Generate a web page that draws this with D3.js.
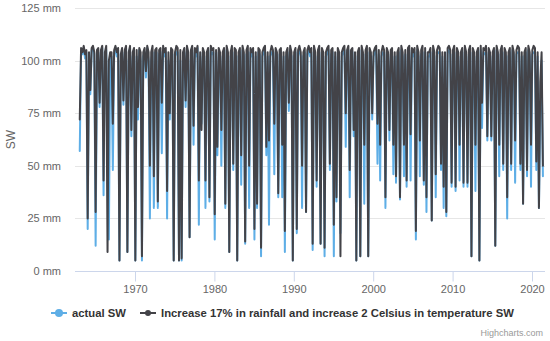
<!DOCTYPE html>
<html>
<head>
<meta charset="utf-8">
<script src="https://cdn.jsdelivr.net/npm/d3@7"></script>
<style>
  html, body { margin: 0; padding: 0; background: #fff; }
  svg { display: block; font-family: "Liberation Sans", Arial, Helvetica, sans-serif; }
</style>
</head>
<body>
<svg id="chart" width="550" height="341"></svg>
<script>
// ---- data (one value every 2 months, starting Jan 1963) ----
const startYear = 1963;
const monthsPerPoint = 2;
const seriesNames = ["actual SW", "Increase 17% in rainfall and increase 2 Celsius in temperature SW"];
const yTicks = [0, 25, 50, 75, 100, 125];
const xTicks = [1970, 1980, 1990, 2000, 2010, 2020];

const actualSW = [
  57,104,103,106,101,104, // 1963
  20,100,84,105,106,103,  // 1964
  12,100,104,78,104,106,  // 1965
  36,102,105,70,15,100,   // 1966
  102,48,103,106,102,105, // 1967
  5,100,104,79,104,106,   // 1968
  9,100,106,64,102,105,   // 1969
  5,102,72,105,100,5,     // 1970
  102,104,92,106,100,25,  // 1971
  100,104,30,104,104,30,  // 1972
  103,104,56,105,102,104, // 1973
  25,100,72,104,103,5,    // 1974
  102,104,104,5,100,5,    // 1975
  102,104,78,106,100,16,  // 1976
  103,105,60,104,102,106, // 1977
  22,102,70,104,102,30,   // 1978
  102,104,33,105,103,104, // 1979
  15,102,55,104,102,50,   // 1980
  102,104,30,105,100,9,   // 1981
  102,104,48,104,102,5,   // 1982
  102,104,41,105,102,13,  // 1983
  103,104,30,104,102,104, // 1984
  15,102,30,104,103,7,    // 1985
  102,104,105,55,102,22,  // 1986
  102,104,103,46,104,102, // 1987
  35,103,104,35,102,9,    // 1988
  102,104,76,105,102,5,   // 1989
  102,104,18,103,105,102, // 1990
  30,102,104,28,103,105,  // 1991
  102,104,10,105,102,40,  // 1992
  103,104,13,104,102,7,   // 1993
  102,104,105,48,103,104, // 1994
  7,102,33,104,100,18,    // 1995
  102,104,105,59,103,105, // 1996
  35,103,104,64,102,5,    // 1997
  102,104,7,105,102,32,   // 1998
  103,104,7,104,102,72,   // 1999
  102,104,105,51,103,43,  // 2000
  102,104,103,30,104,102, // 2001
  62,103,104,46,102,42,   // 2002
  102,104,34,105,102,45,  // 2003
  103,40,104,105,43,104,  // 2004
  102,104,15,105,102,45,  // 2005
  103,104,41,104,28,102,  // 2006
  102,104,24,105,102,35,  // 2007
  103,104,104,48,102,30,  // 2008
  102,26,104,105,103,40,  // 2009
  103,104,38,104,102,43,  // 2010
  102,104,40,105,102,40,  // 2011
  103,104,7,104,102,38,   // 2012
  102,104,5,105,68,104,   // 2013
  103,104,62,104,102,62,  // 2014
  102,104,12,105,102,45,  // 2015
  103,104,48,104,102,25,  // 2016
  102,104,48,105,102,42,  // 2017
  103,104,104,48,102,32,  // 2018
  102,104,45,105,102,40,  // 2019
  103,104,104,48,102,30,  // 2020
  80,100,45               // 2021
];

const scenarioSW = [
  72,106,104,107,103,105, // 1963
  25,104,86,106,107,104,  // 1964
  28,105,106,80,105,107,  // 1965
  43,104,107,9,100,104,   // 1966
  104,70,105,107,104,106, // 1967
  5,103,106,81,105,107,   // 1968
  9,104,107,67,104,106,   // 1969
  5,105,78,106,104,7,     // 1970
  104,106,95,107,104,50,  // 1971
  104,107,45,105,106,33,  // 1972
  105,106,80,107,104,106, // 1973
  38,104,75,106,105,5,    // 1974
  104,107,106,5,105,6,    // 1975
  104,106,81,107,104,16,  // 1976
  105,107,69,106,104,107, // 1977
  43,104,67,106,104,43,   // 1978
  104,106,35,107,105,106, // 1979
  27,105,59,106,104,67,   // 1980
  104,106,32,107,104,9,   // 1981
  104,107,51,106,105,5,   // 1982
  104,106,55,107,104,14,  // 1983
  105,107,50,106,104,106, // 1984
  20,104,32,106,105,11,   // 1985
  104,106,107,59,104,62,  // 1986
  104,107,105,70,106,104, // 1987
  37,105,106,60,104,19,   // 1988
  104,106,80,107,104,5,   // 1989
  104,106,20,105,107,104, // 1990
  50,104,106,28,105,107,  // 1991
  104,106,13,107,104,43,  // 1992
  105,107,13,106,104,11,  // 1993
  104,106,107,51,105,106, // 1994
  22,104,35,106,104,7,    // 1995
  104,106,107,75,105,107, // 1996
  48,105,106,67,104,5,    // 1997
  104,106,7,107,104,60,   // 1998
  105,107,7,106,104,75,   // 1999
  104,106,107,70,105,60,  // 2000
  104,107,105,35,106,104, // 2001
  67,105,106,60,104,45,   // 2002
  104,106,35,107,104,60,  // 2003
  105,43,106,107,65,106,  // 2004
  104,106,19,107,104,62,  // 2005
  105,107,43,106,35,104,  // 2006
  104,106,24,107,104,46,  // 2007
  105,107,106,51,104,40,  // 2008
  104,28,106,107,105,42,  // 2009
  105,107,40,106,104,60,  // 2010
  104,106,42,107,104,42,  // 2011
  105,107,7,106,104,60,   // 2012
  104,106,5,107,80,106,   // 2013
  105,107,64,106,104,64,  // 2014
  104,106,12,107,104,60,  // 2015
  105,107,51,106,104,35,  // 2016
  104,106,51,107,104,62,  // 2017
  105,107,106,51,104,32,  // 2018
  104,106,48,107,104,60,  // 2019
  105,107,106,52,104,30,  // 2020
  90,104,50               // 2021
];

// ---- drawing ----
const colors = ["#5eaee6", "#434348"];
const svg = d3.select("#chart");
const plot = { left: 75, right: 545, top: 8, bottom: 271 };

// time position of each point (fractional year, middle of the 2-month slot)
const t = i => startYear + (i * monthsPerPoint + 0.5) / 12;

const x = d3.scaleLinear()
  .domain([1962.443, 2021.637])
  .range([plot.left, plot.right]);
const y = d3.scaleLinear()
  .domain([0, 125])
  .range([plot.bottom, plot.top]);

// grid lines
svg.append("g")
  .selectAll("line")
  .data(yTicks.filter(v => v > 0))
  .join("line")
  .attr("x1", plot.left).attr("x2", plot.right)
  .attr("y1", d => Math.round(y(d)) + 0.5).attr("y2", d => Math.round(y(d)) + 0.5)
  .attr("stroke", "#e6e6e6").attr("stroke-width", 1);

// y axis labels
const yAxis = d3.axisLeft(y).tickValues(yTicks).tickFormat(d => d + " mm").tickSize(0).tickPadding(0);
const gy = svg.append("g").attr("transform", `translate(61,0)`).call(yAxis);
gy.select(".domain").remove();
gy.selectAll("text").attr("fill", "#666666").style("font-size", "11px")
  .style("font-family", '"Liberation Sans", Arial, sans-serif');

// y title
svg.append("text")
  .attr("transform", `translate(15,${(plot.top + plot.bottom) / 2}) rotate(-90)`)
  .attr("text-anchor", "middle")
  .attr("fill", "#666666")
  .style("font-size", "12px")
  .text("SW");

// x axis
const xAxis = d3.axisBottom(x).tickValues(xTicks).tickFormat(d => String(d)).tickSize(10).tickPadding(4);
const gx = svg.append("g").attr("transform", `translate(0,${plot.bottom + 0.5})`).call(xAxis);
gx.select(".domain").attr("stroke", "#ccd6eb").attr("d", `M${plot.left},0H${plot.right}`);
gx.selectAll(".tick line").attr("stroke", "#ccd6eb");
gx.selectAll("text").attr("fill", "#666666").style("font-size", "11px")
  .style("font-family", '"Liberation Sans", Arial, sans-serif');

// lines
const line = d3.line()
  .x((d, i) => x(t(i)))
  .y(d => y(d));

[actualSW, scenarioSW].forEach((series, k) => {
  svg.append("path")
    .datum(series)
    .attr("d", line)
    .attr("fill", "none")
    .attr("stroke", colors[k])
    .attr("stroke-width", 2)
    .attr("stroke-linejoin", "round")
    .attr("stroke-linecap", "round");
});

// legend
const legendY = 313;
const legendItems = [
  { name: seriesNames[0], color: colors[0], sx: 51, r: 4 },
  { name: seriesNames[1], color: colors[1], sx: 140, r: 3 }
];
const lg = svg.append("g");
legendItems.forEach(it => {
  lg.append("line")
    .attr("x1", it.sx).attr("x2", it.sx + 16)
    .attr("y1", legendY).attr("y2", legendY)
    .attr("stroke", it.color).attr("stroke-width", 2);
  lg.append("circle")
    .attr("cx", it.sx + 8).attr("cy", legendY).attr("r", it.r)
    .attr("fill", it.color);
  lg.append("text")
    .attr("x", it.sx + 21).attr("y", legendY + 4)
    .attr("fill", "#333333")
    .style("font-size", "11.3px")
    .style("font-weight", "bold")
    .text(it.name);
});

// credits
svg.append("text")
  .attr("x", 543).attr("y", 336)
  .attr("text-anchor", "end")
  .attr("fill", "#999999")
  .style("font-size", "9px")
  .text("Highcharts.com");
</script>
</body>
</html>
